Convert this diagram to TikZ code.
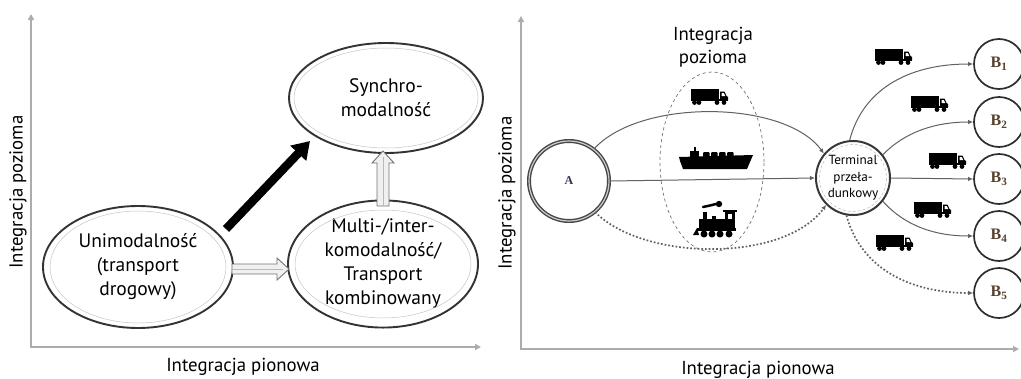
\documentclass[tikz,border=0pt]{standalone}
\usepackage{fontspec}
\setmainfont{PT Sans}
\newfontfamily\serifbf{Liberation Serif}
\usetikzlibrary{arrows.meta,shapes.geometric,calc}
\definecolor{blab}{RGB}{85,65,45}
\definecolor{alab}{RGB}{50,55,80}
\begin{document}
\begin{tikzpicture}[x=1pt,y=-1pt,
  axis/.style={draw=gray!65, line width=1.8pt, {Triangle[length=6pt,width=6pt]}-{Triangle[length=6pt,width=6pt]}},
  lbl/.style={font=\fontsize{18.8}{23}\selectfont, inner sep=0pt, align=center},
  oval/.style={ellipse, draw=black!80, line width=1.9pt, align=center, font=\fontsize{19.5}{24}\selectfont, inner sep=0pt, fill=white},
  innerline/.style={draw=gray!45, line width=0.5pt},
  hollow/.style={draw=black!55, line width=0.9pt, fill=gray!12},
  conn/.style={draw=black!62, line width=1pt, -{Latex[length=5pt,width=4.5pt]}},
  dotc/.style={draw=black!62, line width=1.7pt, dotted, -{Latex[length=5pt,width=4.5pt]}},
  bcirc/.style={circle, draw=black!82, line width=1.7pt, minimum size=50pt, inner sep=0pt, fill=white, text=blab, font=\serifbf\bfseries\fontsize{16}{16}\selectfont},
  truck/.pic={
    \fill (-21,-8.5) rectangle (7,2.5);
    \fill (-21,2) rectangle (16,4);
    \fill (8,-5.5) -- (12.5,-5.5) -- (14.5,-1) -- (16,0) -- (16,3) -- (8,3) -- cycle;
    \fill[white] (9.5,-4) -- (11.8,-4) -- (13.3,-1) -- (9.5,-1) -- cycle;
    \foreach \x in {-17.5,-13,5,12} \fill (\x,5.5) circle (2.4);
  },
  ship/.pic={
    \fill (-37,-1) -- (37,-3) -- (31,11) -- (-33,11) -- (-36,3) -- cycle;
    \fill (-26,-1) rectangle (-17,-7);
    \fill (-22.5,-7) rectangle (-20.5,-11);
    \foreach \x in {-13,-5,3,11} \fill[rounded corners=1pt] (\x,-0.5) rectangle ++(6.5,-5.5);
  },
  train/.pic={
    \draw[line width=2.5pt, line cap=round] (-13,-14) -- (-6,-15.5) -- (0,-17);
    \fill (3,-17) circle (3.2);
    \fill (-13,-9) rectangle (-9,-2);
    \fill (-17,-2) rectangle (9,7);
    \fill (-4,-2) rectangle (0,-5);
    \fill (9,-9) rectangle (19,7);
    \fill (7,-11) rectangle (21,-9);
    \fill[white] (12,-7) rectangle (16,-2);
    \fill (-19,7) rectangle (20,10);
    \fill (-19,7) -- (-23,14) -- (-17,14) -- cycle;
    \foreach \x in {-12,-4,4,13} \fill (\x,13) circle (3.5);
  }
]
\useasboundingbox (0,0) rectangle (1021,378);
\fill[white] (0,0) rectangle (1021,378);

% ---------------- left panel ----------------
\draw[axis] (31,14) -- (31,347) -- (481,347);
\node[lbl, rotate=90] (yl1) at (18,192) {Integracja pozioma};
\node[lbl] (xl1) at (243,367) {Integracja pionowa};

\node[oval, minimum width=194pt, minimum height=110pt] (syn) at (386,98) {Synchro-\\modalność};
\draw[innerline] (syn.center) ellipse [x radius=92, y radius=50];
\node[oval, minimum width=190pt, minimum height=122pt] (uni) at (138,267) {Unimodalność\\(transport\\drogowy)};
\draw[innerline] (uni.center) ellipse [x radius=88, y radius=56];
\node[oval, minimum width=190pt, minimum height=118pt] (multi) at (383,264) {Multi-/inter-\\komodalność/\\Transport\\kombinowany};
\draw[innerline] (multi.center) ellipse [x radius=88, y radius=54];

% black arrow
\coordinate (bs) at (226,229);
\coordinate (be) at (310,141);
\draw[line width=8.5pt, black, -{Triangle[length=17pt,width=21pt]}] (bs) -- (be);

% hollow horizontal arrow uni -> multi
\coordinate (hs) at (232,269);
\coordinate (he) at (289,269);
\draw[hollow] ($(hs)+(0,-5)$) -- ($(he)+(-12,-5)$) -- ($(he)+(-12,-11)$) -- (he) -- ($(he)+(-12,11)$) -- ($(he)+(-12,5)$) -- ($(hs)+(0,5)$) -- cycle;
\draw[gray!55, line width=0.6pt] ($(hs)+(0,0)$) -- ($(he)+(-6,0)$);

% hollow vertical arrow multi -> syn
\coordinate (vs) at (383,206);
\coordinate (ve) at (383,151);
\draw[hollow] ($(vs)+(-6,0)$) -- ($(ve)+(-6,12)$) -- ($(ve)+(-11,12)$) -- (ve) -- ($(ve)+(11,12)$) -- ($(ve)+(6,12)$) -- ($(vs)+(6,0)$) -- cycle;
\draw[gray!55, line width=0.6pt] (vs) -- ($(ve)+(0,6)$);

% ---------------- right panel ----------------
\draw[axis] (521,16) -- (521,349) -- (1019,349);
\node[lbl, rotate=90] (yl2) at (507,193) {Integracja pozioma};
\node[lbl] (xl2) at (758,370) {Integracja pionowa};
\node[lbl, font=\fontsize{18.8}{23.5}\selectfont] (ih) at (713,47) {Integracja\\pozioma};

\node[ellipse, draw=black!55, dashed, line width=0.7pt, minimum width=104pt, minimum height=180pt, inner sep=0pt] (zone) at (712,162) {};

\node[circle, draw=black!72, line width=1.4pt, double=gray!40, double distance=1.2pt, minimum size=80pt, inner sep=0pt, fill=white, text=alab, font=\serifbf\bfseries\fontsize{12}{12}\selectfont] (A) at (569,181) {A};

\node[circle, draw=black!78, line width=2pt, minimum size=74pt, inner sep=0pt, fill=white, align=center, font=\fontsize{13.2}{16.5}\selectfont] (T) at (853,178) {Terminal\\przeła-\\dunkowy};
\draw[draw=gray!55, line width=0.5pt, densely dashed] (T.center) circle (33.5);

\node[bcirc] (B1) at (999,64) {B\textsubscript{1}};
\node[bcirc] (B2) at (999,122) {B\textsubscript{2}};
\node[bcirc] (B3) at (999,179) {B\textsubscript{3}};
\node[bcirc] (B4) at (999,236) {B\textsubscript{4}};
\node[bcirc] (B5) at (999,293) {B\textsubscript{5}};

% connectors A -> T
\draw[conn] (A.52) .. controls (640,98) and (785,100) .. (T.140);
\draw[conn] (A.east) -- (T.west);
\draw[dotc] (A.-50) .. controls (645,262) and (785,262) .. (T.-135);

% connectors T -> B
\draw[conn] (T.95) .. controls (862,92) and (905,64) .. (B1.west);
\draw[conn] (T.38) .. controls (905,132) and (935,122) .. (B2.west);
\draw[conn] (T.east) -- (B3.west);
\draw[conn] (T.-38) .. controls (905,226) and (935,236) .. (B4.west);
\draw[dotc] (T.-100) .. controls (862,272) and (915,293) .. (B5.west);

% icons
\pic at (712,97) {truck};
\pic at (716,158) {ship};
\pic at (716,221) {train};
\pic at (896,57) {truck};
\pic at (932,104) {truck};
\pic at (950,161) {truck};
\pic at (935,210) {truck};
\pic at (897,243) {truck};
\end{tikzpicture}
\end{document}
